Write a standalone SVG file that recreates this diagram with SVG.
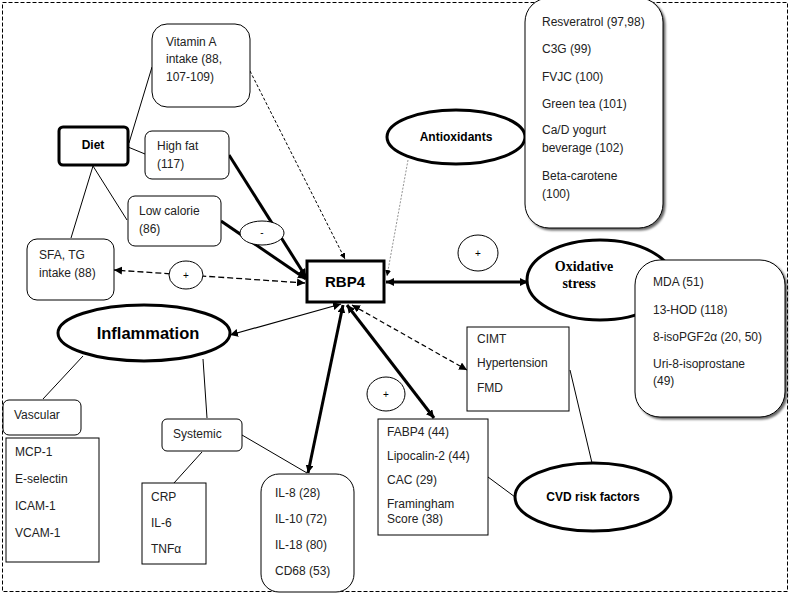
<svg xmlns="http://www.w3.org/2000/svg" width="790" height="594" viewBox="0 0 790 594">
<defs>
<marker id="ah" viewBox="0 0 10 10" refX="10" refY="5" markerWidth="8" markerHeight="8" markerUnits="userSpaceOnUse" orient="auto-start-reverse">
<path d="M0,0 L10,5 L0,10 z" fill="#000"/>
</marker>
<marker id="ahs" viewBox="0 0 10 10" refX="10" refY="5" markerWidth="6" markerHeight="6" markerUnits="userSpaceOnUse" orient="auto-start-reverse">
<path d="M0,0 L10,5 L0,10 z" fill="#000"/>
</marker>
<filter id="sh" x="-10%" y="-10%" width="130%" height="130%">
<feDropShadow dx="2" dy="2" stdDeviation="1" flood-color="#000" flood-opacity="0.6"/>
</filter>
</defs>
<style>
text{font-family:"Liberation Sans",Arial,sans-serif;font-size:12px;fill:#222}
.b{font-weight:bold;fill:#000}
.big{font-size:16.5px}
.mid{font-size:15px}
.sr{font-family:"Liberation Serif","Times New Roman",serif;font-weight:bold;font-size:14px;fill:#000}
.box{fill:#fff;stroke:#000;stroke-width:1}
.thick{fill:#fff;stroke:#000;stroke-width:3}
.ln{stroke:#000;stroke-width:1;fill:none}
.tk{stroke:#000;stroke-width:3;fill:none}
.ds{stroke:#000;stroke-width:1.2;fill:none;stroke-dasharray:5 3}
.sg{fill:#fff;stroke:#000;stroke-width:1}
.sgt{font-size:10px;fill:#000}
</style>
<rect x="2.5" y="2.5" width="785" height="589" fill="none" stroke="#000" stroke-width="1" stroke-dasharray="4 2"/>

<g id="connectors">
<line class="ln" x1="129" y1="143" x2="152" y2="67"/>
<line class="ln" x1="128" y1="147" x2="145" y2="154"/>
<line class="ln" x1="93" y1="166" x2="127" y2="220"/>
<line class="ln" x1="93" y1="166" x2="71" y2="238"/>
<line class="ln" x1="83" y1="356" x2="43" y2="399"/>
<line class="ln" x1="203" y1="359" x2="207" y2="418"/>
<line class="ln" x1="202" y1="452" x2="174" y2="483"/>
<line class="ln" x1="242" y1="435" x2="307" y2="473"/>
<line class="ln" x1="570" y1="370" x2="592" y2="463"/>
<line class="ln" x1="488" y1="477" x2="515" y2="497"/>
<line class="ds" x1="250" y1="71" x2="345" y2="259" style="stroke-width:1;stroke-dasharray:3 2" marker-end="url(#ahs)"/>
<line class="tk" x1="229" y1="155" x2="306" y2="277" marker-end="url(#ah)"/>
<line class="tk" x1="221" y1="221" x2="306" y2="279" marker-end="url(#ah)"/>
<line class="ds" x1="305" y1="283" x2="114" y2="270" style="stroke-width:1.3;stroke-dasharray:6 3" marker-start="url(#ah)" marker-end="url(#ah)"/>
<line x1="408" y1="160" x2="387" y2="276" stroke="#777" stroke-width="0.8" stroke-dasharray="2 1.5" marker-end="url(#ahs)"/>
<line class="tk" x1="386" y1="282" x2="528" y2="282" marker-start="url(#ah)" marker-end="url(#ah)"/>
<line class="ln" x1="341" y1="304" x2="230" y2="335" style="stroke-width:1.2" marker-start="url(#ah)" marker-end="url(#ah)"/>
<line class="tk" x1="343" y1="305" x2="308" y2="473" marker-start="url(#ah)" marker-end="url(#ah)"/>
<line class="tk" x1="347" y1="305" x2="434" y2="418" marker-start="url(#ah)" marker-end="url(#ah)"/>
<line class="ds" x1="352" y1="305" x2="467" y2="370" marker-start="url(#ah)" marker-end="url(#ah)"/>
</g>

<g id="sign-minus"><ellipse class="sg" cx="262" cy="233" rx="22" ry="12"/><text class="sgt" x="262" y="236" text-anchor="middle">-</text></g>
<g id="sign-plus1"><ellipse class="sg" cx="186" cy="275" rx="17" ry="14"/><text class="sgt" x="186" y="279" text-anchor="middle">+</text></g>
<g id="sign-plus2"><ellipse class="sg" cx="478" cy="253" rx="20" ry="18"/><text class="sgt" x="478" y="257" text-anchor="middle">+</text></g>
<g id="sign-plus3"><ellipse class="sg" cx="386" cy="394" rx="19" ry="17"/><text class="sgt" x="386" y="398" text-anchor="middle">+</text></g>

<g id="vitamin-a"><rect class="box" x="152" y="24" width="98" height="83" rx="15"/>
<text x="166" y="46">Vitamin A</text><text x="166" y="63">intake (88,</text><text x="166" y="81">107-109)</text></g>
<g id="diet"><rect class="thick" x="59" y="127" width="69" height="38" rx="4"/>
<text class="b" x="93" y="149" text-anchor="middle">Diet</text></g>
<g id="high-fat"><rect class="box" x="145" y="131" width="84" height="48" rx="7"/>
<text x="157" y="150">High fat</text><text x="157" y="168">(117)</text></g>
<g id="low-calorie"><rect class="box" x="128" y="196" width="93" height="50" rx="7"/>
<text x="139" y="215">Low calorie</text><text x="139" y="233">(86)</text></g>
<g id="sfa-tg"><rect class="box" x="27" y="239" width="87" height="61" rx="10"/>
<text x="39" y="259">SFA, TG</text><text x="39" y="277">intake (88)</text></g>
<g id="rbp4"><rect class="thick" x="307" y="261" width="77" height="41"/>
<text class="b mid" x="345" y="287" text-anchor="middle">RBP4</text></g>

<g id="antioxidants"><ellipse class="thick" cx="456" cy="137" rx="69" ry="27"/>
<text class="b" x="456" y="141" text-anchor="middle">Antioxidants</text></g>
<g id="antioxidant-list"><rect class="box" x="525" y="-2" width="138" height="230" rx="24" filter="url(#sh)"/>
<text x="542" y="26">Resveratrol (97,98)</text><text x="542" y="53">C3G (99)</text><text x="542" y="81">FVJC (100)</text><text x="542" y="108">Green tea (101)</text><text x="542" y="134">Ca/D yogurt</text><text x="542" y="152">beverage (102)</text><text x="542" y="180">Beta-carotene</text><text x="542" y="198">(100)</text></g>

<g id="oxidative-stress"><ellipse class="thick" cx="600" cy="280" rx="73" ry="40"/>
<text class="sr" x="584" y="271" text-anchor="middle">Oxidative</text><text class="sr" x="579" y="288" text-anchor="middle">stress</text></g>
<g id="oxidative-list"><rect class="box" x="635" y="260" width="150" height="157" rx="25" filter="url(#sh)"/>
<text x="653" y="286">MDA (51)</text><text x="653" y="314">13-HOD (118)</text><text x="653" y="341">8-isoPGF2α (20, 50)</text><text x="653" y="368">Uri-8-isoprostane</text><text x="653" y="385">(49)</text></g>

<g id="inflammation"><ellipse class="thick" cx="144" cy="333" rx="86" ry="28"/>
<text class="b big" x="148" y="339" text-anchor="middle">Inflammation</text></g>
<g id="vascular"><rect class="box" x="3" y="400" width="78" height="35" rx="6"/>
<text x="14" y="419">Vascular</text></g>
<g id="vascular-list"><rect class="box" x="6" y="438" width="93" height="124"/>
<text x="15" y="456">MCP-1</text><text x="15" y="483">E-selectin</text><text x="15" y="510">ICAM-1</text><text x="15" y="537">VCAM-1</text></g>
<g id="systemic"><rect class="box" x="162" y="419" width="80" height="32" rx="5"/>
<text x="173" y="438">Systemic</text></g>
<g id="systemic-list"><rect class="box" x="142" y="483" width="64" height="81"/>
<text x="151" y="501">CRP</text><text x="151" y="527">IL-6</text><text x="151" y="553">TNFα</text></g>
<g id="interleukins"><rect class="box" x="261" y="474" width="93" height="118" rx="18"/>
<text x="275" y="497">IL-8 (28)</text><text x="275" y="523">IL-10 (72)</text><text x="275" y="549">IL-18 (80)</text><text x="275" y="575">CD68 (53)</text></g>

<g id="cimt"><rect class="box" x="467" y="327" width="102" height="84"/>
<text x="477" y="343">CIMT</text><text x="477" y="367">Hypertension</text><text x="477" y="392">FMD</text></g>
<g id="fabp4"><rect class="box" x="378" y="419" width="110" height="116"/>
<text x="387" y="436">FABP4 (44)</text><text x="387" y="460">Lipocalin-2 (44)</text><text x="387" y="484">CAC (29)</text><text x="387" y="508">Framingham</text><text x="387" y="523">Score (38)</text></g>
<g id="cvd"><ellipse class="thick" cx="593" cy="497" rx="78" ry="34"/>
<text class="b" x="593" y="501" text-anchor="middle">CVD risk factors</text></g>
</svg>
